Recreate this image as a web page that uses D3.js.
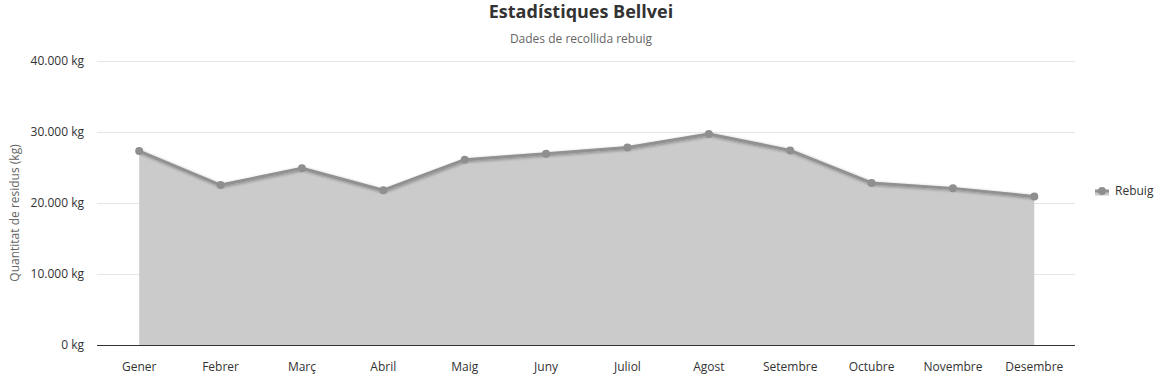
<!DOCTYPE html>
<html>
<head>
<meta charset="utf-8">
<script src="https://cdn.jsdelivr.net/npm/d3@7"></script>
<style>
  body { margin: 0; background: #fff; }
  svg { font-family: "Segoe UI", "Open Sans", sans-serif; }
</style>
</head>
<body>
<div id="chart"></div>
<script>
// data
const months = ["Gener", "Febrer", "Març", "Abril", "Maig", "Juny", "Juliol", "Agost", "Setembre", "Octubre", "Novembre", "Desembre"];
const rebuig = [27320, 22530, 24900, 21800, 26100, 26940, 27830, 29720, 27410, 22820, 22060, 20930];
const yTicks = [0, 10000, 20000, 30000, 40000];

const width = 1162, height = 378;
const margin = { top: 61, right: 87, bottom: 33, left: 98.5 };

const svg = d3.select("#chart").append("svg")
    .attr("width", width)
    .attr("height", height);

// shadow under the line
const defs = svg.append("defs");
const filter = defs.append("filter").attr("id", "shadow")
    .attr("x", "-5%").attr("y", "-20%").attr("width", "110%").attr("height", "140%");
filter.append("feDropShadow")
    .attr("dx", 1).attr("dy", 1).attr("stdDeviation", 1.5)
    .attr("flood-color", "#000").attr("flood-opacity", 0.35);

const x = d3.scaleBand()
    .domain(months)
    .range([margin.left, width - margin.right]);

const y = d3.scaleLinear()
    .domain([0, 40000])
    .range([height - margin.bottom, margin.top]);

const fmt = v => d3.format(",")(v).replace(/,/g, ".") + " kg";

// gridlines
svg.append("g")
    .selectAll("line")
    .data(yTicks.filter(d => d > 0))
    .enter().append("line")
    .attr("x1", 97)
    .attr("x2", width - margin.right)
    .attr("y1", d => y(d) + 0.5)
    .attr("y2", d => y(d) + 0.5)
    .attr("stroke", "#e6e6e6");

const cx = d => x(d) + x.bandwidth() / 2;
const points = months.map((m, i) => ({ m, v: rebuig[i] }));

// area
const area = d3.area()
    .x(d => cx(d.m))
    .y0(y(0))
    .y1(d => y(d.v));
svg.append("path")
    .datum(points)
    .attr("d", area)
    .attr("fill", "#cbcbcb");

// line
const line = d3.line()
    .x(d => cx(d.m))
    .y(d => y(d.v));
svg.append("path")
    .datum(points)
    .attr("d", line)
    .attr("fill", "none")
    .attr("stroke", "#919191")
    .attr("stroke-width", 3)
    .attr("stroke-linejoin", "round")
    .attr("filter", "url(#shadow)");

// markers
svg.append("g")
    .selectAll("circle")
    .data(points)
    .enter().append("circle")
    .attr("cx", d => cx(d.m))
    .attr("cy", d => y(d.v))
    .attr("r", 4)
    .attr("fill", "#8f8f8f");

// x axis
const xAxis = svg.append("g")
    .attr("transform", `translate(0, ${y(0)})`)
    .call(d3.axisBottom(x).tickSize(0).tickPadding(17))
    .attr("font-family", null)
    .attr("font-size", 12);
xAxis.select(".domain")
    .attr("d", `M97,0.5H${width - margin.right}`)
    .attr("stroke", "#333").attr("stroke-width", 1);
xAxis.selectAll("text")
    .attr("fill", "#333");

// y axis labels
const yAxis = svg.append("g")
    .attr("transform", `translate(97, 0)`)
    .call(d3.axisLeft(y).tickValues(yTicks).tickFormat(fmt).tickSize(0).tickPadding(13))
    .attr("font-family", null)
    .attr("font-size", 12);
yAxis.select(".domain").remove();
yAxis.selectAll("text")
    .attr("fill", "#333");

// y axis title
svg.append("text")
    .attr("transform", `translate(19, ${(y(0) + y(40000)) / 2 + 10}) rotate(-90)`)
    .attr("text-anchor", "middle")
    .attr("font-size", 12)
    .attr("fill", "#666")
    .text("Quantitat de residus (kg)");

// titles
svg.append("text")
    .attr("x", width / 2)
    .attr("y", 18)
    .attr("text-anchor", "middle")
    .attr("font-size", 18)
    .attr("font-weight", "bold")
    .attr("fill", "#333")
    .text("Estadístiques Bellvei");

svg.append("text")
    .attr("x", width / 2)
    .attr("y", 43)
    .attr("text-anchor", "middle")
    .attr("font-size", 12)
    .attr("fill", "#666")
    .text("Dades de recollida rebuig");

// legend
const legend = svg.append("g").attr("transform", "translate(1095, 191)");
legend.append("path")
    .attr("d", "M0,0.5 L14,0.5 L14,4.5 L0,4.5 Z")
    .attr("fill", "#cbcbcb");
legend.append("line")
    .attr("x1", 0).attr("x2", 14)
    .attr("stroke", "#919191").attr("stroke-width", 3);
legend.append("circle")
    .attr("cx", 7).attr("r", 4).attr("fill", "#8f8f8f");
legend.append("text")
    .attr("x", 20)
    .attr("y", 4)
    .attr("font-size", 12)
    .attr("fill", "#333")
    .text("Rebuig");
</script>
</body>
</html>
